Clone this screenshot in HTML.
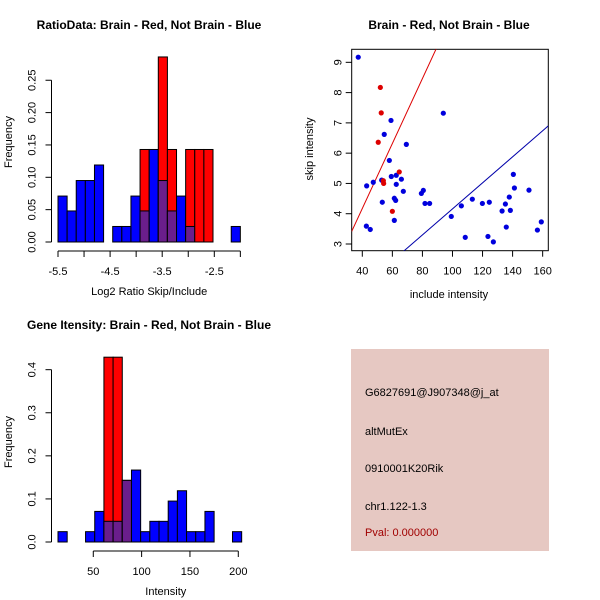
<!DOCTYPE html>
<html><head><meta charset="utf-8"><style>
html,body{margin:0;padding:0;background:#fff;}
svg{display:block;font-family:"Liberation Sans",sans-serif;}
</style></head><body>
<svg id="s" width="600" height="600" xmlns="http://www.w3.org/2000/svg">
<rect width="600" height="600" fill="#fff"/>
<text x="149" y="29" font-size="12" font-weight="bold" text-anchor="middle">RatioData: Brain - Red, Not Brain - Blue</text>
<text x="449" y="29" font-size="12" font-weight="bold" text-anchor="middle">Brain - Red, Not Brain - Blue</text>
<text x="149" y="329" font-size="12" font-weight="bold" text-anchor="middle">Gene Itensity: Brain - Red, Not Brain - Blue</text>
<g id="p1"></g>
<g id="p2"></g>
<g id="p3"></g>
<g>
<rect x="351" y="349" width="198" height="202" fill="#e6c8c2"/>
<g font-size="11" fill="#000">
<text x="365" y="396">G6827691@J907348@j_at</text>
<text x="365" y="435">altMutEx</text>
<text x="365" y="472">0910001K20Rik</text>
<text x="365" y="510">chr1.122-1.3</text>
<text x="365" y="536" fill="#a00000">Pval: 0.000000</text>
</g></g>
</svg>
<script>
// Ratio histogram data
const ratioBinStart = -5.5;
const ratioBinWidth = 0.175;
const ratioBlue = [0.071,0.048,0.095,0.095,0.119,0,0.024,0.024,0.071,0.048,0.143,0.095,0.048,0.071,0.024,0,0,0,0,0.024];
const ratioRed  = [0,0,0,0,0,0,0,0,0,0.143,0,0.286,0.143,0,0.143,0.143,0.143,0,0,0];
const ratioXTicks = [-5.5,-5,-4.5,-4,-3.5,-3,-2.5,-2];
const ratioXLabels = ["-5.5","","-4.5","","-3.5","","-2.5",""];
const ratioYTicks = [0,0.05,0.10,0.15,0.20,0.25];
const ratioYLabels = ["0.00","0.05","0.10","0.15","0.20","0.25"];
// Intensity histogram data
const intBinStart = 13.5;
const intBinWidth = 9.5;
const intBlue = [0.024,0,0,0.024,0.071,0.048,0.048,0.143,0.167,0.024,0.048,0.048,0.095,0.119,0.024,0.024,0.071,0,0,0.024];
const intRed  = [0,0,0,0,0,0.429,0.429,0.143,0,0,0,0,0,0,0,0,0,0,0,0];
const intXTicks = [50,100,150,200];
const intXLabels = ["50","100","150","200"];
const intYTicks = [0,0.1,0.2,0.3,0.4];
const intYLabels = ["0.0","0.1","0.2","0.3","0.4"];
// Scatter data
const blueX = [37.3,59.1,54.6,69.3,93.9,58.0,59.3,62.6,66.0,52.9,42.9,47.3,62.6,67.3,61.3,62.2,53.3,80.6,79.3,81.7,84.8,61.3,42.7,45.3,99.2,105.9,108.5,113.2,119.9,124.5,123.6,127.2,133.0,135.2,135.8,137.8,138.5,140.5,141.2,150.9,156.5,159.1];
const blueY = [9.17,7.08,6.62,6.29,7.32,5.76,5.23,5.27,5.14,5.11,4.92,5.04,4.97,4.74,4.51,4.44,4.38,4.77,4.67,4.34,4.34,3.78,3.59,3.48,3.91,4.26,3.22,4.48,4.34,4.38,3.25,3.07,4.09,4.32,3.56,4.55,4.11,5.30,4.85,4.78,3.46,3.73];
const redX = [52.0,52.6,50.6,64.6,54.0,54.2,60.0];
const redY = [8.17,7.33,6.36,5.38,5.09,5.00,4.08];
const redLine = [-0.12,0.1073];   // intercept, slope
const blueLine = [-0.14,0.043];
const scXTicks = [40,60,80,100,120,140,160];
const scYTicks = [3,4,5,6,7,8,9];

const NS="http://www.w3.org/2000/svg";
function mk(parent,tag,attrs){const e=document.createElementNS(NS,tag);for(const k in attrs)e.setAttribute(k,attrs[k]);parent.appendChild(e);return e;}

function hist(g,cfg){
  const sx=v=>cfg.x0+(v-cfg.d0)*cfg.kx, sy=v=>cfg.yb-v*cfg.ky;
  const n=cfg.blue.length;
  for(let i=0;i<n;i++){
    const a=sx(cfg.start+i*cfg.w), b=sx(cfg.start+(i+1)*cfg.w);
    const bl=cfg.blue[i], rd=cfg.red[i];
    if(bl>0){const r=mk(g,'rect',{x:a,y:sy(bl),width:b-a,height:sy(0)-sy(bl),fill:'#0000ff',stroke:'#000','stroke-width':1});
      
      }
    if(rd>0){const r=mk(g,'rect',{x:a,y:sy(rd),width:b-a,height:sy(0)-sy(rd),fill:'#ff0000',stroke:'#000','stroke-width':1});
      
      }
    const m=Math.min(bl,rd);
    if(m>0){const r=mk(g,'rect',{x:a,y:sy(m),width:b-a,height:sy(0)-sy(m),fill:'#6a1e8c',stroke:'#000','stroke-width':1});
      
      }
  }
  // x axis
  const xa=cfg.yb+9;
  const xl=mk(g,'line',{x1:sx(cfg.xt[0]),x2:sx(cfg.xt[cfg.xt.length-1]),y1:xa,y2:xa,stroke:'#000'});
  
  
  cfg.xt.forEach((t,i)=>{mk(g,'line',{x1:sx(t),x2:sx(t),y1:xa,y2:xa+6,stroke:'#000'});
    if(cfg.xl[i]){const tx=mk(g,'text',{x:sx(t),y:xa+24,'font-size':11,'text-anchor':'middle'});tx.textContent=cfg.xl[i];
      
      }});
  // y axis
  const ya=cfg.x0-6.5;
  const yl=mk(g,'line',{x1:ya,x2:ya,y1:sy(cfg.yt[0]),y2:sy(cfg.yt[cfg.yt.length-1]),stroke:'#000'});
  
  
  cfg.yt.forEach((t,i)=>{mk(g,'line',{x1:ya,x2:ya-6,y1:sy(t),y2:sy(t),stroke:'#000'});
    const tx=mk(g,'text',{x:0,y:0,'font-size':11,'text-anchor':'middle',transform:`translate(${ya-16},${sy(t)}) rotate(-90)`});tx.textContent=cfg.yl[i];
    
    });
  const xt=mk(g,'text',{x:(sx(cfg.xt[0])+sx(cfg.xt[cfg.xt.length-1]))/2,y:cfg.yb+53,'font-size':11,'text-anchor':'middle'});
  xt.textContent=cfg.xtitle;
  
  
  const yt=mk(g,'text',{x:0,y:0,'font-size':11,'text-anchor':'middle',transform:`translate(12,${cfg.yb-100}) rotate(-90)`});
  yt.textContent='Frequency';
  
  
}

hist(document.getElementById('p1'),{x0:58,d0:-5.5,kx:52.1,yb:242,ky:647,start:ratioBinStart,w:ratioBinWidth,blue:ratioBlue,red:ratioRed,xt:ratioXTicks,xl:ratioXLabels,yt:ratioYTicks,yl:ratioYLabels,xtitle:'Log2 Ratio Skip/Include'});
hist(document.getElementById('p3'),{x0:58,d0:13.5,kx:0.9667,yb:542,ky:430.8,start:intBinStart,w:intBinWidth,blue:intBlue,red:intRed,xt:intXTicks,xl:intXLabels,yt:intYTicks,yl:intYLabels,xtitle:'Intensity'});

// scatter
(function(){
  const g=document.getElementById('p2');
  const L=351.7,R=548.3,T=49.3,B=250.7;
  const sx=v=>362.3+(v-40)*1.503, sy=v=>244-(v-3)*30.28;
  const cp=mk(g,'clipPath',{id:'clip'});mk(cp,'rect',{x:L,y:T,width:R-L,height:B-T});
  const box=mk(g,'rect',{x:L,y:T,width:R-L,height:B-T,fill:'none',stroke:'#000'});
  
  
  const xmin=32.9,xmax=163.7;
  const rl=mk(g,'line',{x1:sx(xmin),y1:sy(redLine[0]+redLine[1]*xmin),x2:sx(xmax),y2:sy(redLine[0]+redLine[1]*xmax),stroke:'#dd0000','clip-path':'url(#clip)'});
  
  
  const bl=mk(g,'line',{x1:sx(xmin),y1:sy(blueLine[0]+blueLine[1]*xmin),x2:sx(xmax),y2:sy(blueLine[0]+blueLine[1]*xmax),stroke:'#0000aa','clip-path':'url(#clip)'});
  
  
  blueX.forEach((x,i)=>{const c=mk(g,'circle',{cx:sx(x),cy:sy(blueY[i]),r:2.6,fill:'#0000dd'});
    
    });
  redX.forEach((x,i)=>{const c=mk(g,'circle',{cx:sx(x),cy:sy(redY[i]),r:2.6,fill:'#dd0000'});
    
    });
  scXTicks.forEach(t=>{mk(g,'line',{x1:sx(t),x2:sx(t),y1:B,y2:B+6,stroke:'#000'});
    const tx=mk(g,'text',{x:sx(t),y:B+24,'font-size':11,'text-anchor':'middle'});tx.textContent=t;
    
    });
  scYTicks.forEach(t=>{mk(g,'line',{x1:L,x2:L-6,y1:sy(t),y2:sy(t),stroke:'#000'});
    const tx=mk(g,'text',{x:0,y:0,'font-size':11,'text-anchor':'middle',transform:`translate(${L-10},${sy(t)}) rotate(-90)`});tx.textContent=t;
    
    });
  const xt=mk(g,'text',{x:449,y:298,'font-size':11,'text-anchor':'middle'});xt.textContent='include intensity';
  
  
  const yt=mk(g,'text',{x:0,y:0,'font-size':11,'text-anchor':'middle',transform:'translate(313,149) rotate(-90)'});yt.textContent='skip intensity';
  
  
})();
</script>
</body></html>
